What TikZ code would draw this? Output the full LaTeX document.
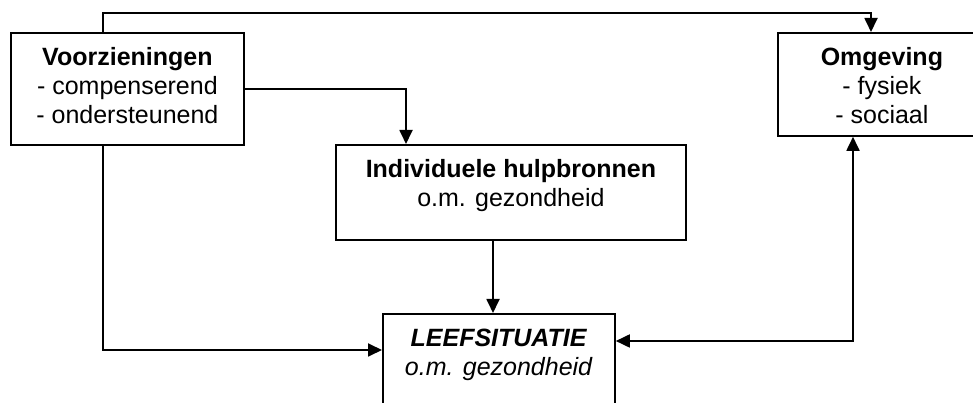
\documentclass[tikz,border=0pt]{standalone}
\usepackage{fontspec}
\setmainfont{Liberation Sans}
\usetikzlibrary{arrows.meta}
\newcommand\vaktekst[1]{\begin{tabular}[t]{@{}c@{}}#1\end{tabular}}
\begin{document}
\begin{tikzpicture}[x=1pt,y=1pt,line join=miter,
		font=\fontsize{25}{29}\selectfont,
		>={Triangle[length=14pt,width=13pt]},
		vak/.style={draw,line width=1.8pt,inner sep=0pt,
			anchor=north west,text height=33pt},
		pijl/.style={->,line width=1.8pt}]
	\useasboundingbox (0,0) rectangle (973,403);
	\clip (0,0) rectangle (973,403);
	% boxes
	\node[vak,minimum width=233pt,text depth=79pt] (voorz) at (10,371)
		{\vaktekst{\textbf{Voorzieningen}\\- compenserend\\- ondersteunend}};
	\node[vak,minimum width=208pt,text depth=70pt] (omg) at (777,371)
		{\vaktekst{\textbf{Omgeving}\\- fysiek\\- sociaal}};
	\node[vak,minimum width=350pt,text depth=62pt] (indiv) at (335,259)
		{\vaktekst{\textbf{Individuele hulpbronnen}\\o.m. gezondheid}};
	\node[vak,minimum width=232pt,text depth=77pt] (leef) at (382,90)
		{\vaktekst{\textbf{\textit{LEEFSITUATIE}}\\\textit{o.m. gezondheid}}};
	% connectors
	\draw[pijl] ([xshift=93pt]voorz.north west) -- ++(0,19)
		-| ([xshift=94pt]omg.north west);
	\draw[pijl] (voorz.east) -| ([xshift=71pt]indiv.north west);
	\draw[pijl] ([xshift=158pt]indiv.south west) -- ([xshift=111pt]leef.north west);
	\draw[pijl] ([xshift=93pt]voorz.south west) |- ([yshift=-37pt]leef.north west);
	\draw[pijl,<->] ([yshift=-28pt]leef.north east) -| ([xshift=76pt]omg.south west);
\end{tikzpicture}
\end{document}
